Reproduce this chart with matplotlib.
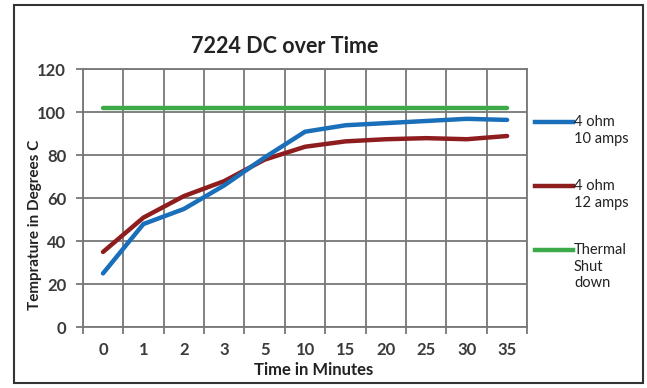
"""Temperature over time chart for the 7224 DC amp."""

import numpy as np
import matplotlib.pyplot as plt
from matplotlib.lines import Line2D
from matplotlib.patches import Rectangle

plt.rcParams['font.family'] = ['Lato', 'DejaVu Sans']

time_labels = ['0', '1', '2', '3', '5', '10', '15', '20', '25', '30', '35']
ohm4_10amps = [25, 48, 55, 66, 79, 91, 94, 95, 96, 97, 96.5]
ohm4_12amps = [35, 51, 61, 68, 78, 84, 86.5, 87.5, 88, 87.5, 89]
thermal_shutdown = [102] * len(time_labels)

series_names = ['4 ohm\n10 amps', '4 ohm\n12 amps', 'Thermal\nShut\ndown']
series_colors = ['#1a6fba', '#8e1d1d', '#3daa4a']

fig = plt.figure(figsize=(6.47, 3.88), dpi=100)
ax = fig.add_axes([0.128, 0.157, 0.687, 0.664])

x = np.arange(len(time_labels))
ax.plot(x, thermal_shutdown, color=series_colors[2], lw=3.2,
        solid_capstyle='round', zorder=3)
ax.plot(x, ohm4_12amps, color=series_colors[1], lw=3.2,
        solid_capstyle='round', zorder=4)
ax.plot(x, ohm4_10amps, color=series_colors[0], lw=3.2,
        solid_capstyle='round', zorder=5)

# Axes and grid, Excel style
grid_color = '#777777'
ax.set_xlim(-0.5, len(time_labels) - 0.5)
ax.set_ylim(0, 120)
ax.set_yticks(range(0, 121, 20))
ax.set_xticks(x)
ax.set_xticklabels(time_labels)
ax.set_xticks(np.arange(-0.5, len(time_labels)), minor=True)
ax.grid(True, which='minor', axis='x', color=grid_color, lw=1.3)
ax.grid(True, which='major', axis='y', color=grid_color, lw=1.3)
ax.tick_params(axis='x', which='major', length=0, pad=11)
ax.tick_params(axis='x', which='minor', length=5, color=grid_color, width=1.3)
ax.tick_params(axis='y', length=5, color=grid_color, width=1.3, pad=7)
for lab in ax.get_xticklabels() + ax.get_yticklabels():
    lab.set_fontsize(12)
    lab.set_fontweight('bold')
    lab.set_color('#3a3a3a')
for sp in ax.spines.values():
    sp.set_color(grid_color)
    sp.set_linewidth(1.3)

fig.text(0.484, 0.046, 'Time in Minutes', ha='center', va='center',
         fontsize=12, fontweight='bold', color='#222222')
fig.text(0.054, 0.42, 'Temprature in Degrees C', ha='center', va='center',
         rotation=90, fontsize=11, fontweight='bold', color='#222222')
fig.text(0.44, 0.88, '7224 DC over Time', ha='center', va='center',
         fontsize=15.5, fontweight='bold', color='#222222')

# Legend drawn on the right, handle level with the first text line
legend_y = [0.686, 0.521, 0.356]
for name, color, ly in zip(series_names, series_colors, legend_y):
    fig.add_artist(Line2D([0.827, 0.886], [ly, ly], color=color, lw=3.2,
                          transform=fig.transFigure))
    fig.text(0.887, ly + 0.018, name, ha='left', va='top', fontsize=10.5,
             color='#222222', linespacing=1.25)

# Outer chart frame
fig.add_artist(Rectangle((0.021, 0.012), 0.973, 0.975, fill=False,
                         edgecolor='#333333', lw=1.5,
                         transform=fig.transFigure))

fig.savefig('out.png', dpi=100)
